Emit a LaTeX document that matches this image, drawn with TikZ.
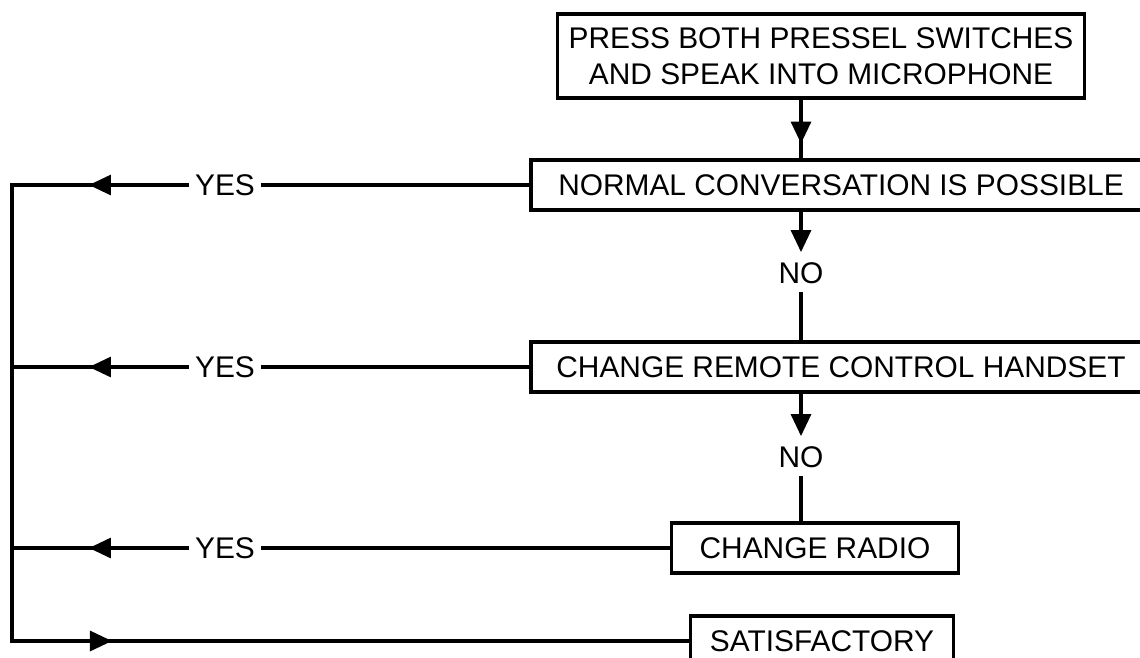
\documentclass[tikz,border=0pt]{standalone}
\usepackage{fontspec}
\setmainfont{Liberation Sans}
\usepackage{tikz}
\usetikzlibrary{arrows.meta, positioning, calc, decorations.markings}
\tikzset{
	process/.style  ={rectangle, draw=black, line width=1.8pt, minimum height=1cm, align=center, inner sep=0pt},
	answer/.style   ={inner xsep=0.15cm, inner ysep=0.2cm},
	flowline/.style ={line width=1.8pt, line cap=rect},
	flowarrow/.style={-{Triangle[length=0.44cm, width=0.4cm]}, line width=1.8pt},
	midarrow/.style ={flowline, postaction={decorate}, decoration={markings, mark=at position #1 with {\arrow{Triangle[length=0.44cm, width=0.4cm]}}}},
}

\begin{document}
\begin{tikzpicture}[x=0.02cm, y=-0.02cm, font=\fontsize{17}{20.5}\selectfont]
	\useasboundingbox (0,0) rectangle (1140,657);
	% boxes down the right-hand side
	\node[process, minimum width=10.54cm, minimum height=1.68cm] (press) at (821,56) {PRESS BOTH PRESSEL SWITCHES\\AND SPEAK INTO MICROPHONE};
	\node[process, minimum width=12.4cm] (normal) at (841,185) {NORMAL CONVERSATION IS POSSIBLE};
	\node[answer] (no1) at (801,273) {NO};
	\node[process, minimum width=12.4cm] (handset) at (841,367) {CHANGE REMOTE CONTROL HANDSET};
	\node[answer] (no2) at (801,457) {NO};
	\node[process, minimum width=5.74cm] (radio) at (815,548) {CHANGE RADIO};
	\node[process, minimum width=5.26cm] (satisf) at (822,641) {SATISFACTORY};
	% yes branches
	\foreach \n/\b/\y in {1/normal/185, 2/handset/367, 3/radio/548}{
		\node[answer] (yes\n) at (225,\y) {YES};
		\coordinate (s\n) at (12,\y);
		\draw[flowline] (\b) -- (yes\n);
		\draw[midarrow=-1.54cm] (yes\n) -- (s\n);
	}
	\coordinate (s4) at (12,641);
	\draw[flowline] (s1) -- (s4);
	\draw[midarrow=2cm] (s4) -- (satisf);
	% no branches
	\draw[midarrow=0.88cm] (no1 |- press.south) -- (no1 |- normal.north);
	\draw[flowarrow] (no1 |- normal.south) -- (no1);
	\draw[flowline] (no1) -- (no1 |- handset.north);
	\draw[flowarrow] (no2 |- handset.south) -- (no2);
	\draw[flowline] (no2) -- (no2 |- radio.north);
\end{tikzpicture}
\end{document}
